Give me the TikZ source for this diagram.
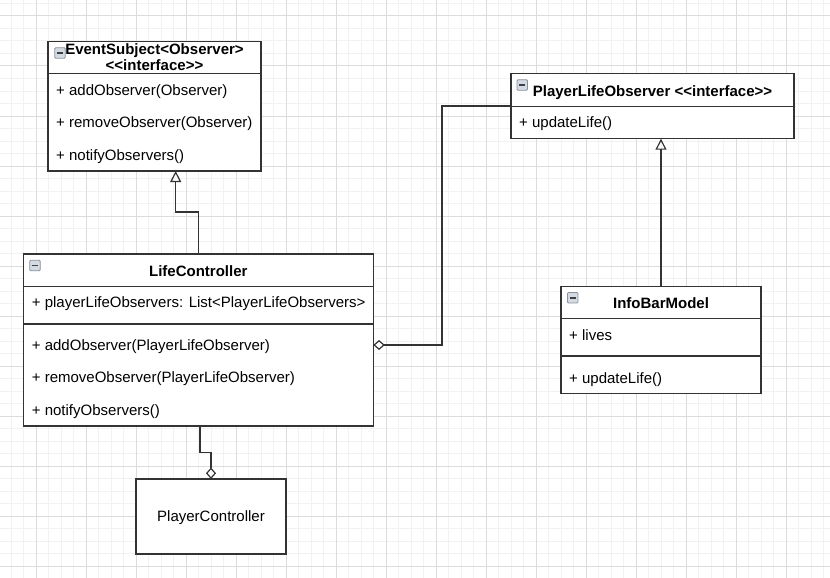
\documentclass[tikz,border=0pt]{standalone}
\usepackage{fontspec}
\setmainfont{Liberation Sans}
\usetikzlibrary{arrows.meta,calc}
\definecolor{gridminor}{HTML}{F2F2F2}
\definecolor{gridmajor}{HTML}{DCDCDC}
\definecolor{linec}{HTML}{333333}
\definecolor{iconfill}{HTML}{D4DAE2}
\definecolor{icondraw}{HTML}{8A929C}
\newcommand\umlll{<\kern0pt<}
\newcommand\umlgg{>\kern0pt>}
\begin{document}
\begin{tikzpicture}[x=1pt,y=-1pt,
  font=\fontsize{15}{18}\selectfont,
  umlbox/.style={draw=linec,line width=1.2pt,fill=none,inner sep=0pt,outer sep=0pt,anchor=north west},
  sepline/.style={draw=linec,line width=1.2pt},
  txt/.style={anchor=base west,inner sep=0pt,text=black},
  ctxt/.style={anchor=base,inner sep=0pt,text=black},
  btxt/.style={anchor=base,inner sep=0pt,text=black,font=\fontsize{15}{18}\selectfont\bfseries},
  icon/.style={draw=icondraw,fill=iconfill,line width=0.8pt,minimum width=10.5pt,minimum height=10.5pt,inner sep=0pt,rounded corners=1pt},
  gen/.style={draw=linec,line width=1.2pt,-{Triangle[open,length=11pt,width=11pt]}},
  agg/.style={draw=linec,line width=1.2pt,-{Diamond[open,length=11.5pt,width=10pt]}}]
\useasboundingbox (0,0) rectangle (830,578);
\fill[white] (0,0) rectangle (830,578);
% grid
\foreach \x in {-1.5,11,...,831} \draw[gridminor,line width=1pt] (\x,0) -- (\x,578);
\foreach \y in {3.5,16,...,579} \draw[gridminor,line width=1pt] (0,\y) -- (830,\y);
\foreach \x in {36,86,...,831} \draw[gridmajor,line width=1pt] (\x,0) -- (\x,578);
\foreach \y in {16,66,...,579} \draw[gridmajor,line width=1pt] (0,\y) -- (830,\y);

% EventSubject
\node[umlbox,fill=white,minimum width=213pt,minimum height=129.3pt] (es) at (48,41.7) {};
\draw[sepline] ($(es.north west)+(0,32)$) -- ($(es.north east)+(0,32)$);
\node[icon] (esi) at (60,53) {};
\draw[black!75,line width=1.6pt] ($(esi.west)+(2.5,0)$) -- ($(esi.east)+(-2.5,0)$);
\node[btxt] (est1) at (154.5,55) {EventSubject<Observer>};
\node[btxt] (est2) at (154.5,70.7) {\umlll interface\umlgg};
\node[txt] (esm1) at (56,95.5) {+ addObserver(Observer)};
\node[txt] (esm2) at (56,127.8) {+ removeObserver(Observer)};
\node[txt] (esm3) at (56,160.2) {+ notifyObservers()};

% LifeController
\node[umlbox,fill=white,minimum width=350pt,minimum height=172pt] (lc) at (23.3,254) {};
\draw[sepline] ($(lc.north west)+(0,32.7)$) -- ($(lc.north east)+(0,32.7)$);
\draw[sepline] ($(lc.north west)+(0,70)$) -- ($(lc.north east)+(0,70)$);
\node[icon] (lci) at (35,265.5) {};
\draw[black!75,line width=1.6pt] ($(lci.west)+(2.5,0)$) -- ($(lci.east)+(-2.5,0)$);
\node[btxt] (lct) at (198.3,276) {LifeController};
\node[txt] (lca) at (31.7,307.7) {+ playerLifeObservers: List<PlayerLifeObservers>};
\node[txt] (lcm1) at (31.7,350.3) {+ addObserver(PlayerLifeObserver)};
\node[txt] (lcm2) at (31.7,382.8) {+ removeObserver(PlayerLifeObserver)};
\node[txt] (lcm3) at (31.7,415.5) {+ notifyObservers()};

% PlayerLifeObserver
\node[umlbox,fill=white,minimum width=283pt,minimum height=65.4pt] (plo) at (511,73.3) {};
\draw[sepline] ($(plo.north west)+(0,33.4)$) -- ($(plo.north east)+(0,33.4)$);
\node[icon] (ploi) at (522.3,85) {};
\draw[black!75,line width=1.6pt] ($(ploi.west)+(2.5,0)$) -- ($(ploi.east)+(-2.5,0)$);
\node[btxt] (plot) at (652.5,96) {PlayerLifeObserver \umlll interface\umlgg};
\node[txt] (plom) at (519,127.7) {+ updateLife()};

% InfoBarModel
\node[umlbox,fill=white,minimum width=200pt,minimum height=107pt] (ibm) at (561,286.7) {};
\draw[sepline] ($(ibm.north west)+(0,31.6)$) -- ($(ibm.north east)+(0,31.6)$);
\draw[sepline] ($(ibm.north west)+(0,69.3)$) -- ($(ibm.north east)+(0,69.3)$);
\node[icon] (ibmi) at (572.7,297.7) {};
\draw[black!75,line width=1.6pt] ($(ibmi.west)+(2.5,0)$) -- ($(ibmi.east)+(-2.5,0)$);
\node[btxt] (ibmt) at (661,308.3) {InfoBarModel};
\node[txt] (ibma) at (569,340.7) {+ lives};
\node[txt] (ibmm) at (569,383.3) {+ updateLife()};

% PlayerController
\node[umlbox,fill=white,minimum width=150pt,minimum height=75pt] (pc) at (136,479) {};
\node[ctxt] (pct) at (211,521) {PlayerController};

% connectors
\draw[gen] (lc.north) |- ($(es.south west)+(127.7,41)$) -- ($(es.south west)+(127.7,0)$);
\draw[gen] (ibm.north) -- (ibm.north |- plo.south);
\draw[agg] (plo.west) -- ++(-69,0) |- ($(lc.east)+(0,5)$);
\draw[agg] ($(lc.south)+(1.7,0)$) -- ++(0,26.3) -| (pc.north);
\end{tikzpicture}
\end{document}
